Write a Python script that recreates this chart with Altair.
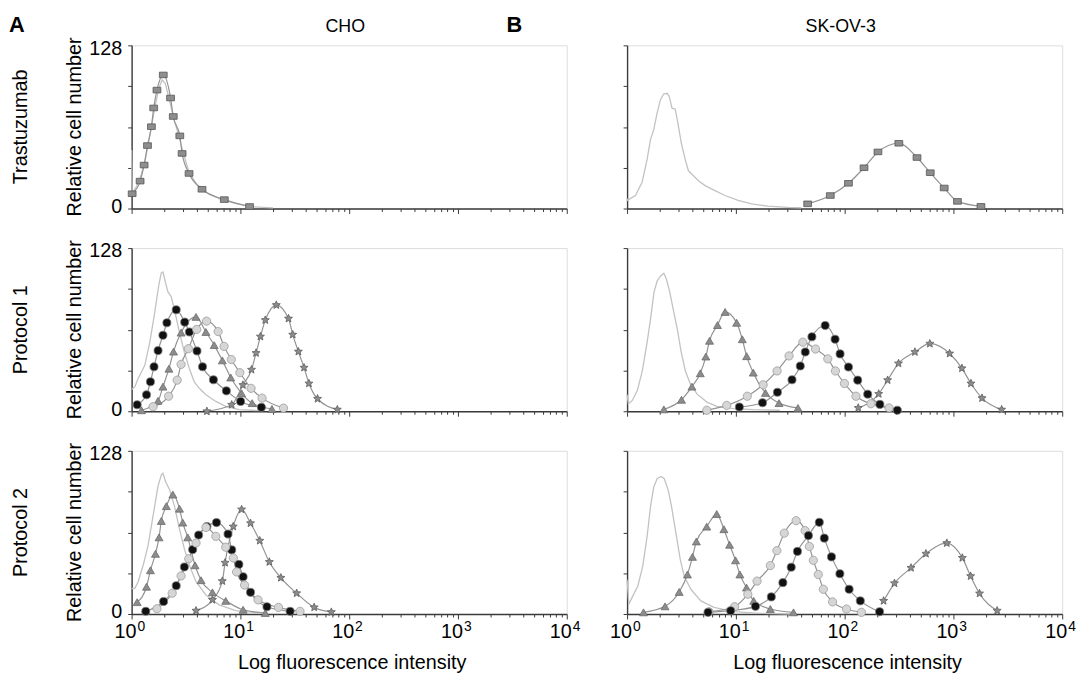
import math
import altair as alt
import pandas as pd

# ---------------- data ----------------
# x values are read as log10(fluorescence intensity); y = relative cell number (0-128)

# CHO / Trastuzumab
cho_tras_ctrl_lx = [0, 0.005, 0.05, 0.09, 0.13, 0.16, 0.19, 0.22, 0.25, 0.28, 0.31, 0.35, 0.39, 0.44, 0.48, 0.53, 0.60, 0.68, 0.80, 0.95, 1.10, 1.30]
cho_tras_ctrl_y = [46, 12, 18, 27, 40, 54, 68, 82, 94, 101, 98, 84, 70, 55, 42, 28, 19, 13, 8, 4, 1.5, 0.5]
cho_tras_sq_lx = [0.005, 0.078, 0.115, 0.146, 0.182, 0.203, 0.233, 0.291, 0.358, 0.383, 0.443, 0.464, 0.528, 0.647, 0.852, 1.084]
cho_tras_sq_y = [11.6, 21.5, 34.1, 49.4, 64.2, 78.9, 92.9, 104.8, 86.7, 72.2, 57.0, 43.2, 27.5, 15.1, 7.0, 1.6]

# SK-OV-3 / Trastuzumab
sk_tras_ctrl_lx = [0, 0.002, 0.077, 0.138, 0.184, 0.215, 0.245, 0.276, 0.306, 0.336, 0.367, 0.388, 0.413, 0.443, 0.467, 0.498, 0.534, 0.564, 0.610, 0.656, 0.717, 0.808, 0.900, 1.021, 1.144, 1.295, 1.478, 1.600]
sk_tras_ctrl_y = [8, 6.4, 10.2, 20.5, 38.6, 54.1, 61.9, 74.9, 85.2, 89.8, 90.4, 87.8, 78.7, 77.9, 67.0, 51.6, 38.6, 29.6, 25.7, 21.8, 18.0, 14.1, 10.2, 6.4, 3.7, 1.9, 0.9, 0.6]
sk_tras_sq_lx = [1.660, 1.868, 2.035, 2.178, 2.306, 2.498, 2.665, 2.787, 2.915, 3.037, 3.253]
sk_tras_sq_y = [3.7, 10.2, 19.8, 32.0, 44.4, 51.2, 40.0, 28.1, 16.1, 5.6, 1.7]

# CHO / Protocol 1
cho_p1_ctrl_lx = [0, 0.030, 0.060, 0.121, 0.167, 0.212, 0.252, 0.273, 0.288, 0.306, 0.333, 0.364, 0.394, 0.440, 0.485, 0.531, 0.576, 0.622, 0.683, 0.774, 0.865, 0.986, 1.168]
cho_p1_ctrl_y = [17, 19.3, 25.7, 36.0, 54.0, 77.1, 100.2, 108.5, 109.2, 102.8, 93.8, 90.0, 79.6, 61.7, 46.3, 33.4, 23.1, 18.0, 12.9, 7.7, 3.9, 1.3, 0.5]
cho_p1_black_lx = [0.051, 0.137, 0.173, 0.206, 0.243, 0.288, 0.324, 0.410, 0.488, 0.531, 0.601, 0.652, 0.752, 0.871, 1.002, 1.193]
cho_p1_black_y = [5.1, 12.9, 23.1, 34.9, 47.6, 59.6, 69.4, 79.6, 69.9, 62.2, 47.3, 34.9, 24.7, 16.0, 7.7, 3.1]
cho_p1_tri_lx = [0.091, 0.243, 0.288, 0.343, 0.385, 0.455, 0.592, 0.683, 0.759, 0.834, 0.911, 1.011, 1.108, 1.290]
cho_p1_tri_y = [0.8, 8.2, 19.3, 33.4, 46.8, 61.7, 74.0, 62.2, 51.9, 39.9, 26.5, 14.1, 6.4, 1.8]
cho_p1_light_lx = [0.197, 0.340, 0.419, 0.455, 0.522, 0.598, 0.689, 0.795, 0.850, 0.916, 0.995, 1.098, 1.199, 1.396]
cho_p1_light_y = [3.6, 11.8, 24.4, 36.8, 49.1, 64.2, 70.7, 62.5, 50.9, 40.6, 30.3, 18.0, 10.3, 2.5]
cho_p1_star_lx = [0.692, 0.920, 1.023, 1.102, 1.144, 1.184, 1.229, 1.330, 1.442, 1.481, 1.533, 1.585, 1.630, 1.709, 1.891]
cho_p1_star_y = [0, 5.1, 20.6, 32.6, 45.7, 58.6, 71.5, 83.3, 72.7, 60.1, 46.8, 34.2, 21.8, 9.8, 1.3]

# SK-OV-3 / Protocol 1
sk_p1_ctrl_lx = [0, 0.012, 0.048, 0.094, 0.140, 0.185, 0.216, 0.247, 0.277, 0.308, 0.338, 0.362, 0.393, 0.429, 0.466, 0.496, 0.536, 0.582, 0.642, 0.733, 0.825, 0.977, 1.160, 1.404]
sk_p1_ctrl_y = [13, 5.9, 8.5, 16.2, 31.6, 54.7, 72.7, 93.3, 102.3, 106.2, 108.2, 103.5, 93.3, 77.9, 62.5, 47.0, 31.6, 21.3, 13.6, 7.2, 3.9, 2.1, 1.3, 0.8]
sk_p1_tri_lx = [0.338, 0.500, 0.596, 0.673, 0.724, 0.758, 0.831, 0.901, 1.007, 1.059, 1.099, 1.160, 1.272, 1.397, 1.571]
sk_p1_tri_y = [1.5, 9.0, 19.3, 29.8, 42.9, 55.3, 67.6, 77.9, 69.4, 56.5, 43.2, 30.3, 14.4, 6.4, 2.6]
sk_p1_light_lx = [0.733, 0.916, 1.105, 1.251, 1.379, 1.489, 1.616, 1.732, 1.845, 1.915, 1.998, 2.104, 2.241, 2.408]
sk_p1_light_y = [0.8, 4.6, 11.8, 20.8, 31.6, 43.4, 54.2, 48.8, 41.1, 31.6, 21.8, 11.8, 5.9, 2.6]
sk_p1_black_lx = [1.032, 1.245, 1.382, 1.516, 1.592, 1.638, 1.699, 1.821, 1.912, 1.958, 2.035, 2.120, 2.212, 2.324, 2.484]
sk_p1_black_y = [3.3, 6.7, 14.9, 24.7, 35.5, 46.5, 58.4, 67.3, 56.5, 45.0, 34.7, 24.4, 13.4, 5.4, 0.8]
sk_p1_star_lx = [2.125, 2.313, 2.395, 2.495, 2.646, 2.783, 2.965, 3.078, 3.161, 3.263, 3.443]
sk_p1_star_y = [2.6, 13.6, 24.4, 37.5, 46.5, 53.0, 45.3, 33.7, 21.8, 10.3, 1.3]

# CHO / Protocol 2
cho_p2_ctrl_lx = [0, 0.030, 0.060, 0.106, 0.151, 0.197, 0.242, 0.273, 0.288, 0.312, 0.349, 0.394, 0.440, 0.485, 0.531, 0.592, 0.683, 0.804, 0.956, 1.168]
cho_p2_ctrl_y = [20, 20.1, 25.3, 38.2, 53.6, 76.9, 100.1, 109.1, 110.4, 104.0, 97.5, 84.6, 66.6, 51.1, 38.2, 25.3, 14.9, 7.2, 2.6, 0.8]
cho_p2_tri_lx = [0.051, 0.137, 0.173, 0.219, 0.252, 0.273, 0.319, 0.379, 0.440, 0.470, 0.516, 0.583, 0.638, 0.743, 0.865, 1.025, 1.229]
cho_p2_tri_y = [9.3, 21.4, 34.3, 47.2, 60.1, 73.0, 84.6, 93.7, 82.6, 71.7, 60.1, 38.2, 26.5, 17.0, 10.3, 3.3, 0.8]
cho_p2_black_lx = [0.130, 0.294, 0.410, 0.485, 0.561, 0.616, 0.692, 0.780, 0.886, 0.920, 0.986, 1.025, 1.093, 1.244, 1.457]
cho_p2_black_y = [2.1, 9.8, 22.2, 36.9, 50.5, 61.9, 68.6, 71.7, 62.7, 50.3, 38.9, 29.2, 17.0, 5.7, 2.1]
cho_p2_light_lx = [0.233, 0.373, 0.455, 0.525, 0.592, 0.683, 0.774, 0.865, 0.935, 0.965, 1.038, 1.162, 1.350, 1.548]
cho_p2_light_y = [4.1, 16.3, 29.9, 43.3, 55.7, 67.9, 60.9, 52.4, 43.9, 33.0, 22.7, 11.1, 5.2, 2.1]
cho_p2_star_lx = [0.592, 0.743, 0.834, 0.859, 0.934, 1.011, 1.093, 1.178, 1.266, 1.372, 1.517, 1.678, 1.836]
cho_p2_star_y = [2.6, 11.1, 25.8, 40.2, 68.6, 82.0, 71.2, 57.5, 40.8, 28.4, 16.3, 5.2, 1.5]

# SK-OV-3 / Protocol 2
sk_p2_ctrl_lx = [0, 0.016, 0.053, 0.099, 0.144, 0.184, 0.215, 0.245, 0.276, 0.312, 0.342, 0.379, 0.409, 0.449, 0.489, 0.525, 0.586, 0.678, 0.799, 0.982, 1.226, 1.530]
sk_p2_ctrl_y = [27, 7.8, 14.2, 22.0, 37.5, 60.8, 84.0, 99.6, 106.1, 107.9, 106.1, 97.0, 84.0, 63.4, 42.7, 29.7, 19.4, 10.3, 5.2, 1.8, 0.5, 0]
sk_p2_tri_lx = [0.151, 0.349, 0.479, 0.555, 0.601, 0.637, 0.732, 0.824, 0.890, 0.942, 0.997, 1.037, 1.098, 1.164, 1.317, 1.530]
sk_p2_tri_y = [1.3, 6.0, 17.3, 31.0, 44.8, 56.9, 68.5, 78.4, 66.5, 54.3, 42.1, 31.0, 20.7, 10.3, 3.9, 1.3]
sk_p2_light_lx = [0.753, 0.988, 1.110, 1.195, 1.317, 1.377, 1.445, 1.554, 1.637, 1.676, 1.712, 1.758, 1.804, 1.889, 2.017, 2.154]
sk_p2_light_y = [1.8, 5.7, 15.5, 25.8, 38.0, 49.7, 63.4, 73.2, 65.4, 53.0, 42.1, 31.0, 19.4, 9.5, 3.9, 1.3]
sk_p2_black_lx = [0.744, 0.952, 1.180, 1.326, 1.432, 1.509, 1.566, 1.667, 1.767, 1.813, 1.879, 1.956, 2.041, 2.144, 2.321]
sk_p2_black_y = [1.3, 2.6, 6.0, 13.4, 24.6, 36.7, 49.1, 61.5, 71.9, 59.5, 44.8, 31.6, 19.4, 10.3, 1.8]
sk_p2_star_lx = [2.358, 2.458, 2.610, 2.747, 2.939, 3.082, 3.158, 3.240, 3.402]
sk_p2_star_y = [10.3, 24.1, 36.2, 47.3, 55.6, 44.0, 29.7, 16.1, 2.6]

col_titles = ["CHO", "SK-OV-3"]
panel_letters = ["A", "B"]
row_labels = ["Trastuzumab", "Protocol 1", "Protocol 2"]
y_title = "Relative cell number"
x_title = "Log fluorescence intensity"
decades = [1, 10, 100, 1000, 10000]
decade_exps = ["0", "1", "2", "3", "4"]
y_ticks = [0, 32, 64, 96, 128]

# ---------------- style ----------------
W, H = 440, 165
FONT = "Liberation Sans"
AX = "#3a3a3a"

star_pts = []
for i in range(10):
    r = 1.0 if i % 2 == 0 else 0.45
    a = -math.pi / 2 + i * math.pi / 5
    star_pts.append(f"{r * math.cos(a):.3f},{r * math.sin(a):.3f}")
STAR = "M" + "L".join(star_pts) + "Z"
RECT = "M-1,-0.72L1,-0.72L1,0.72L-1,0.72Z"

ser_domain = ["square", "triangle", "black", "light", "star"]
shape_range = [RECT, "triangle-up", "circle", "circle", STAR]
size_range = [62, 72, 42, 42, 130]
fill_range = ["#8e8e8e", "#8c8c8c", "#111111", "#d6d6d6", "#8c8c8c"]
stroke_range = ["#555555", "#6a6a6a", "#7a7a7a", "#9c9c9c", "#5c5c5c"]

minor_vals = []
for d in [1, 10, 100, 1000]:
    minor_vals += [d * k for k in range(1, 10)]
minor_vals.append(10000)

xscale = alt.Scale(type="log", domain=[1, 10000])
yscale = alt.Scale(domain=[0, 128])


def panel(ctrl, series, col, row):
    cdf = pd.DataFrame({"x": [10 ** v for v in ctrl[0]], "y": ctrl[1]})
    rows = []
    for name, (lx, ys) in series.items():
        for a, b in zip(lx, ys):
            rows.append({"x": 10 ** a, "y": b, "s": name})
    sdf = pd.DataFrame(rows)

    xaxis = alt.Axis(values=minor_vals, labels=False, title=None, grid=False,
                     domainColor=AX, domainWidth=1.4, tickColor=AX, tickWidth=1,
                     tickSize={"condition": {"test": "indexof([1,10,100,1000,10000], datum.value) >= 0", "value": 5}, "value": 3})
    yaxis = alt.Axis(values=y_ticks, labels=(col == 0), title=None, grid=False,
                     labelExpr="datum.value == 0 || datum.value == 128 ? datum.label : ''",
                     labelFontSize=20, labelFont=FONT, labelColor="#000", labelPadding=6,
                     labelOffset={"condition": {"test": "datum.value == 0", "value": -2}, "value": 3},
                     domainColor=AX, domainWidth=1.4, tickColor=AX, tickSize=4)

    ctrl_line = alt.Chart(cdf).mark_line(color="#c2c2c2", strokeWidth=1.3).encode(
        x=alt.X("x:Q", scale=xscale, axis=xaxis),
        y=alt.Y("y:Q", scale=yscale, axis=yaxis),
    )
    s_lines = alt.Chart(sdf).mark_line(color="#939393", strokeWidth=1.2, interpolate="monotone").encode(
        x=alt.X("x:Q", scale=xscale),
        y=alt.Y("y:Q", scale=yscale),
        detail="s:N",
    )
    pts = alt.Chart(sdf).mark_point(filled=True, strokeWidth=0.8, opacity=1).encode(
        x=alt.X("x:Q", scale=xscale),
        y=alt.Y("y:Q", scale=yscale),
        shape=alt.Shape("s:N", scale=alt.Scale(domain=ser_domain, range=shape_range), legend=None),
        size=alt.Size("s:N", scale=alt.Scale(domain=ser_domain, range=size_range), legend=None),
        fill=alt.Fill("s:N", scale=alt.Scale(domain=ser_domain, range=fill_range), legend=None),
        stroke=alt.Stroke("s:N", scale=alt.Scale(domain=ser_domain, range=stroke_range), legend=None),
    )
    layers = [ctrl_line, s_lines, pts]

    if row == 0:
        layers.append(alt.Chart(pd.DataFrame({"t": [panel_letters[col]]})).mark_text(
            font=FONT, fontSize=22, fontWeight="bold", align="left", baseline="alphabetic", color="#000"
        ).encode(text="t:N", x=alt.value(-124 if col == 0 else -122), y=alt.value(-13)))
        layers.append(alt.Chart(pd.DataFrame({"t": [col_titles[col]]})).mark_text(
            font=FONT, fontSize=18, align="center", baseline="alphabetic", color="#000"
        ).encode(text="t:N", x=alt.value(W / 2 - 4), y=alt.value(-13)))
    if col == 0:
        layers.append(alt.Chart(pd.DataFrame({"t": [row_labels[row]]})).mark_text(
            font=FONT, fontSize=20, angle=270, align="center", baseline="middle", color="#000"
        ).encode(text="t:N", x=alt.value(-112), y=alt.value(H / 2)))
        layers.append(alt.Chart(pd.DataFrame({"t": [y_title]})).mark_text(
            font=FONT, fontSize=20, angle=270, align="center", baseline="middle", color="#000"
        ).encode(text="t:N", x=alt.value(-57), y=alt.value(H / 2)))
    if row == 2:
        ddf = pd.DataFrame({"d": decades, "e": decade_exps, "b": ["10"] * len(decades)})
        layers.append(alt.Chart(ddf).mark_text(
            font=FONT, fontSize=20, align="right", baseline="alphabetic", dx=5, color="#000"
        ).encode(x=alt.X("d:Q", scale=xscale), y=alt.value(H + 24), text="b:N"))
        layers.append(alt.Chart(ddf).mark_text(
            font=FONT, fontSize=14, align="left", baseline="alphabetic", dx=6, color="#000"
        ).encode(x=alt.X("d:Q", scale=xscale), y=alt.value(H + 17), text="e:N"))
        layers.append(alt.Chart(pd.DataFrame({"t": [x_title]})).mark_text(
            font=FONT, fontSize=20, align="center", baseline="middle", color="#000"
        ).encode(text="t:N", x=alt.value(W / 2 + 3), y=alt.value(H + 50)))

    return alt.layer(*layers).properties(width=W, height=H)


panels = [
    panel((cho_tras_ctrl_lx, cho_tras_ctrl_y), {"square": (cho_tras_sq_lx, cho_tras_sq_y)}, 0, 0),
    panel((sk_tras_ctrl_lx, sk_tras_ctrl_y), {"square": (sk_tras_sq_lx, sk_tras_sq_y)}, 1, 0),
    panel((cho_p1_ctrl_lx, cho_p1_ctrl_y), {
        "black": (cho_p1_black_lx, cho_p1_black_y),
        "triangle": (cho_p1_tri_lx, cho_p1_tri_y),
        "light": (cho_p1_light_lx, cho_p1_light_y),
        "star": (cho_p1_star_lx, cho_p1_star_y)}, 0, 1),
    panel((sk_p1_ctrl_lx, sk_p1_ctrl_y), {
        "triangle": (sk_p1_tri_lx, sk_p1_tri_y),
        "light": (sk_p1_light_lx, sk_p1_light_y),
        "black": (sk_p1_black_lx, sk_p1_black_y),
        "star": (sk_p1_star_lx, sk_p1_star_y)}, 1, 1),
    panel((cho_p2_ctrl_lx, cho_p2_ctrl_y), {
        "triangle": (cho_p2_tri_lx, cho_p2_tri_y),
        "black": (cho_p2_black_lx, cho_p2_black_y),
        "light": (cho_p2_light_lx, cho_p2_light_y),
        "star": (cho_p2_star_lx, cho_p2_star_y)}, 0, 2),
    panel((sk_p2_ctrl_lx, sk_p2_ctrl_y), {
        "triangle": (sk_p2_tri_lx, sk_p2_tri_y),
        "light": (sk_p2_light_lx, sk_p2_light_y),
        "black": (sk_p2_black_lx, sk_p2_black_y),
        "star": (sk_p2_star_lx, sk_p2_star_y)}, 1, 2),
]

chart = alt.concat(*panels, columns=2, spacing={"row": 40, "column": 61}, bounds="flush").properties(
    padding={"left": 0, "top": 2, "right": 5, "bottom": 5},
    background="white",
).configure_view(stroke=None).configure(font=FONT)

chart.save("out.html", embed_options={"renderer": "svg", "actions": False})
